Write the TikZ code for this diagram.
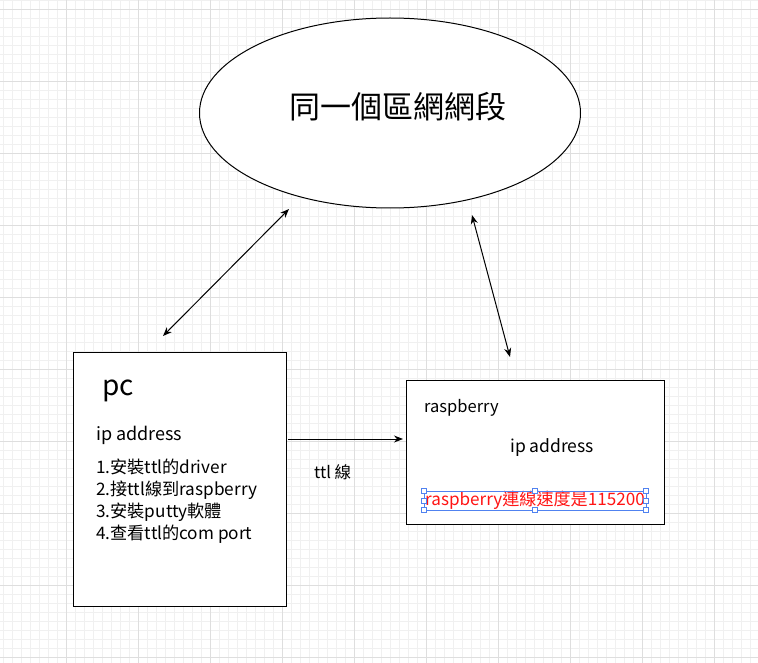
\documentclass[tikz,border=0pt]{standalone}
\usepackage{fontspec}
\setmainfont{Noto Sans CJK TC}
\usepackage{tikz}
\usetikzlibrary{shapes,arrows.meta,positioning,calc}
\definecolor{gridminor}{RGB}{240,240,240}
\definecolor{gridmajor}{RGB}{222,222,222}
\definecolor{selblue}{RGB}{80,130,240}
\definecolor{txtred}{RGB}{255,20,20}

\begin{document}
\begin{tikzpicture}[x=1pt,y=-1pt,
    every node/.style={inner sep=0pt},
    boxline/.style={draw=black,fill=white,line width=1pt},
    link/.style={line width=1pt,{Stealth[length=9pt,width=7pt]}-{Stealth[length=9pt,width=7pt]}},
    linkone/.style={line width=1pt,-{Stealth[length=9pt,width=7pt]}},
    handle/.style={draw=selblue,fill=white,line width=0.8pt,minimum size=5pt}]
        \useasboundingbox (0,0) rectangle (758,663);
        \fill[white] (0,0) rectangle (758,663);
        % background grid
        \foreach \gx in {3.5,12.5,...,758} \draw[gridminor,line width=0.8pt] (\gx,0) -- (\gx,663);
        \foreach \gy in {0.3,9.3,...,663} \draw[gridminor,line width=0.8pt] (0,\gy) -- (758,\gy);
        \foreach \gx in {66.5,138.5,...,758} \draw[gridmajor,line width=0.8pt] (\gx,0) -- (\gx,663);
        \foreach \gy in {9.3,81.3,...,663} \draw[gridmajor,line width=0.8pt] (0,\gy) -- (758,\gy);

        \node[ellipse,boxline,minimum width=381pt,minimum height=190pt] (net) at (390,113) {};
        \node[font=\fontsize{31}{36}\selectfont] (nettxt) at (398,107) {同一個區網網段};

        \draw[boxline] (73,352) rectangle (286,606);
        \draw[boxline] (406,380) rectangle (664,524);
        \coordinate (pcR) at (288,439);
        \coordinate (rpL) at (403,439);

        % pc box
        \node[anchor=base west,font=\fontsize{28}{32}\selectfont] (pc) at (102,395) {pc};
        \node[anchor=base west,font=\fontsize{18}{22}\selectfont] (pcip) at (96,440) {ip address};
        \node[anchor=base west,font=\fontsize{17.2}{22}\selectfont] (step1) at (96,473) {1.安裝ttl的driver};
        \node[anchor=base west,font=\fontsize{17.2}{22}\selectfont] (step2) at (96,495) {2.接ttl線到raspberry};
        \node[anchor=base west,font=\fontsize{17.2}{22}\selectfont] (step3) at (96,517) {3.安裝putty軟體};
        \node[anchor=base west,font=\fontsize{17.2}{22}\selectfont] (step4) at (96,539) {4.查看ttl的com port};

        % raspberry box
        \node[anchor=base west,font=\fontsize{16.5}{20}\selectfont] (rp) at (424,412) {raspberry};
        \node[anchor=base west,font=\fontsize{17.5}{20}\selectfont] (rpip) at (510,452) {ip address};
        \node[anchor=base west,font=\fontsize{17.1}{20}\selectfont,text=txtred] (baud) at (425,505) {raspberry連線速度是115200};
        \draw[selblue,line width=0.9pt] (424,491) rectangle (646,510);
        \foreach \hx in {424,535,646} \foreach \hy in {491,510} \node[handle] at (\hx,\hy) {};
        \foreach \hx in {424,646} \node[handle] at (\hx,500.5) {};

        \node[anchor=base west,font=\fontsize{16.5}{20}\selectfont] (ttl) at (314,478) {ttl 線};

        \coordinate (a1) at (163,336);
        \coordinate (a2) at (289,209);
        \coordinate (b1) at (472,215);
        \coordinate (b2) at (510,357);
        \draw[link] (a1) -- (a2);
        \draw[link] (b1) -- (b2);
        \draw[linkone] (pcR) -- (rpL);
    \end{tikzpicture}
\end{document}
